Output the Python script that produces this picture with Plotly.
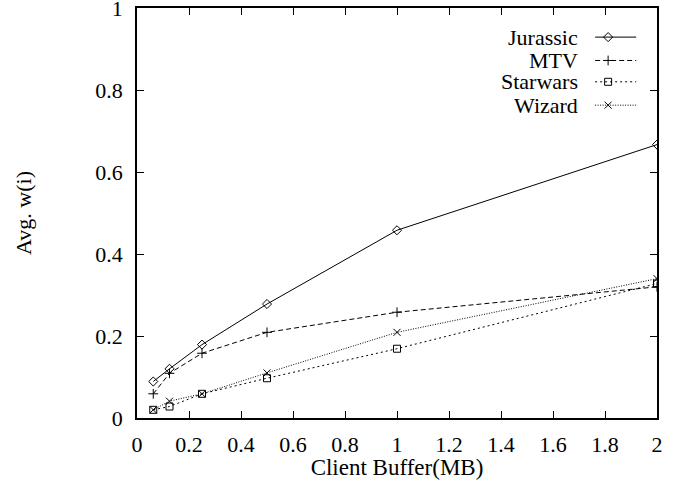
import plotly.graph_objects as go

buffer_mb = [0.0625, 0.125, 0.25, 0.5, 1, 2]
jurassic = [0.089, 0.12, 0.179, 0.278, 0.458, 0.667]
mtv = [0.059, 0.109, 0.158, 0.209, 0.258, 0.32]
starwars = [0.02, 0.028, 0.059, 0.097, 0.169, 0.328]
wizard = [0.02, 0.041, 0.059, 0.11, 0.209, 0.34]

x_ticks = [0, 0.2, 0.4, 0.6, 0.8, 1, 1.2, 1.4, 1.6, 1.8, 2]
x_labels = ["0", "0.2", "0.4", "0.6", "0.8", "1", "1.2", "1.4", "1.6", "1.8", "2"]
y_ticks = [0, 0.2, 0.4, 0.6, 0.8, 1]
y_labels = ["0", "0.2", "0.4", "0.6", "0.8", "1"]

series = [
    ("Jurassic", jurassic, "solid", "diamond-open"),
    ("MTV", mtv, "5px,3px", "cross-thin-open"),
    ("Starwars", starwars, "2px,3px", "square-open"),
    ("Wizard", wizard, "1px,1.5px", "x-thin-open"),
]

FONT = '"Liberation Serif", "Times New Roman", Times, serif'
fig = go.Figure()

# legend layout (paper fractions)
leg_rows = [0.929, 0.872, 0.820, 0.763]
leg_x_line = [0.881, 0.96]
leg_x_mark = 0.906
leg_x_text = 0.852

for (name, vals, dash, sym), ry in zip(series, leg_rows):
    fig.add_trace(go.Scatter(
        x=buffer_mb, y=vals, mode="lines+markers", name=name,
        line=dict(color="black", width=1, dash=dash),
        marker=dict(symbol=sym, size=7, color="black", line=dict(color="black", width=1)),
        showlegend=False,
    ))
    fig.add_trace(go.Scatter(
        x=leg_x_line, y=[ry, ry], xaxis="x2", yaxis="y2", mode="lines",
        line=dict(color="black", width=1, dash=dash), showlegend=False, hoverinfo="skip",
    ))
    fig.add_trace(go.Scatter(
        x=[leg_x_mark], y=[ry], xaxis="x2", yaxis="y2", mode="markers",
        marker=dict(symbol=sym, size=7, color="black", line=dict(color="black", width=1)),
        showlegend=False, hoverinfo="skip",
    ))
    fig.add_annotation(
        x=leg_x_text, y=ry, xref="paper", yref="paper", text=name,
        showarrow=False, xanchor="right", yanchor="middle",
        font=dict(family=FONT, size=22, color="black"),
    )

axis_common = dict(
    showline=True, linecolor="black", linewidth=1.5, mirror="ticks",
    ticks="inside", ticklen=7, tickcolor="black", tickwidth=1,
    showgrid=False, zeroline=False, automargin=False,
    ticklabeloverflow="allow",
    tickfont=dict(family=FONT, size=22, color="black"),
)

fig.update_layout(
    width=685, height=480,
    margin=dict(l=137, r=28, t=8, b=62),
    paper_bgcolor="white", plot_bgcolor="white",
    font=dict(family=FONT, color="black"),
    xaxis=dict(range=[0, 2], tickvals=x_ticks, ticktext=x_labels,
               title=dict(text="Client Buffer(MB)", font=dict(family=FONT, size=23, color="black"), standoff=0),
               ticklabelstandoff=6, **axis_common),
    yaxis=dict(range=[0, 1.0002], tickvals=y_ticks, ticktext=y_labels,
               title=dict(text="Avg. w(i)", font=dict(family=FONT, size=22, color="black"), standoff=58),
               ticklabelstandoff=8, **axis_common),
    xaxis2=dict(range=[0, 1], overlaying="x", visible=False, fixedrange=True),
    yaxis2=dict(range=[0, 1], overlaying="y", visible=False, fixedrange=True),
)

fig.write_html("out.html", config={"displayModeBar": False},
               post_script="document.body.style.margin='0';document.body.style.padding='0';")
